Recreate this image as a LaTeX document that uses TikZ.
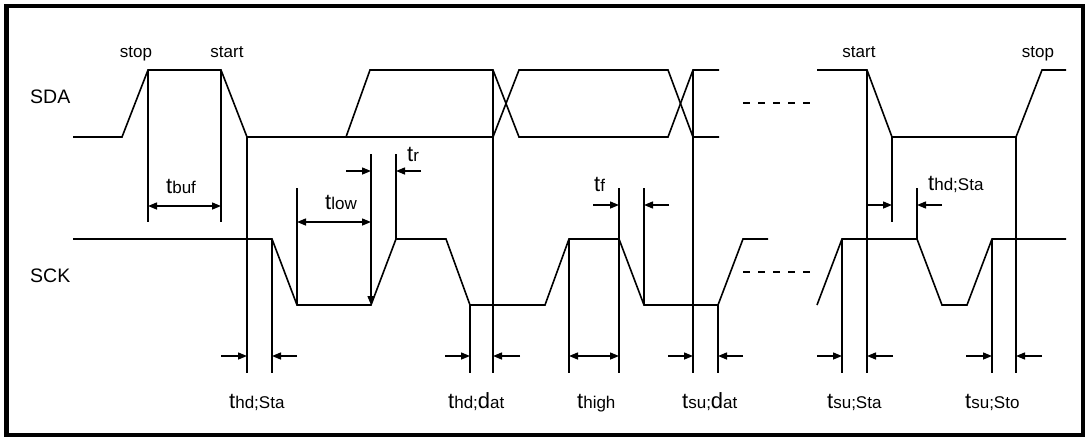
\documentclass[tikz,border=0pt]{standalone}
\usepackage{fontspec}
\setmainfont{Liberation Sans}
\usetikzlibrary{arrows.meta}
\newcommand{\bt}[1]{{\fontsize{22}{24}\selectfont #1}}
\newcommand{\st}[1]{{\fontsize{17}{19}\selectfont #1}}
\begin{document}
\begin{tikzpicture}[x=1pt,y=-1pt,
 sig/.style={line width=1.6pt, line join=miter},
 guide/.style={line width=1.4pt},
 arr/.style={line width=1.4pt,-{Triangle[length=9pt,width=7pt]}},
 darr/.style={line width=1.4pt,{Triangle[length=9pt,width=7pt]}-{Triangle[length=9pt,width=7pt]}},
 dots/.style={line width=1.6pt, dash pattern=on 7pt off 8pt},
 lbl/.style={anchor=base west, inner sep=0pt},
 word/.style={anchor=base, inner sep=0pt, font=\fontsize{17}{19}\selectfont},
 sname/.style={anchor=base west, inner sep=0pt, font=\fontsize{19.5}{22}\selectfont},
 frame/.style={line width=4.5pt}]
\useasboundingbox (0,0) rectangle (1085,437);
\draw[frame] (6.5,6) rectangle (1083,435);

% signal names
\node[sname] (sda) at (30,103) {SDA};
\node[sname] (sck) at (30,282) {SCK};
\node[word] (stop1) at (136,57) {stop};
\node[word] (start1) at (227,57) {start};
\node[word] (start2) at (859,57) {start};
\node[word] (stop2) at (1038,57) {stop};

% SDA
\draw[sig] (73,137) -- (122,137) -- (148,70) -- (221,70) -- (247,137) -- (493,137) -- (519,70) -- (668,70) -- (693,137) -- (719,137);
\draw[sig] (346,137) -- (370,70) -- (493,70) -- (519,137) -- (668,137) -- (693,70) -- (719,70);
\draw[sig] (817,70) -- (867,70) -- (892,137) -- (1016,137) -- (1042,70) -- (1066,70);

% SCK
\draw[sig] (73,239) -- (272,239) -- (297,305) -- (371,305) -- (396,239) -- (446,239) -- (470,305) -- (545,305) -- (569,239) -- (619,239) -- (644,305) -- (718,305) -- (743,239) -- (768,239);
\draw[sig] (817,305) -- (842,239) -- (917,239) -- (942,305) -- (967,305) -- (992,239) -- (1066,239);

% continuation dashes
\draw[dots] (743,103) -- (812,103);
\draw[dots] (743,272) -- (812,272);

% t_buf
\draw[guide] (148,70) -- (148,222);
\draw[guide] (221,70) -- (221,222);
\draw[darr] (148,206) -- (221,206);
\node[lbl] (tbuf) at (166,193) {\bt{t}\st{buf}};

% t_hd;Sta (left)
\draw[guide] (247,137) -- (247,373);
\draw[guide] (272,239) -- (272,373);
\draw[arr] (221,356) -- (247,356);
\draw[arr] (297,356) -- (272,356);
\node[lbl] (thdsta1) at (229,408) {\bt{t}\st{hd;Sta}};

% t_low
\draw[guide] (297,188) -- (297,305);
\draw[arr] (371,154) -- (371,305);
\draw[darr] (297,222) -- (371,222);
\draw[arr] (346,171) -- (371,171);
\node[lbl] (tlow) at (325,209) {\bt{t}\st{low}};

% t_r
\draw[guide] (396,154) -- (396,239);
\draw[arr] (421,171) -- (396,171);
\node[lbl] (tr) at (407,161) {\bt{t}\st{r}};

% t_hd;dat
\draw[guide] (470,305) -- (470,373);
\draw[guide] (493,70) -- (493,373);
\draw[arr] (445,356) -- (470,356);
\draw[arr] (520,356) -- (493,356);
\node[lbl] (thddat) at (448,408) {\bt{t}\st{hd;}\bt{d}\st{at}};

% t_high
\draw[guide] (569,239) -- (569,373);
\draw[guide] (619,188) -- (619,373);
\draw[darr] (569,356) -- (619,356);
\node[lbl] (thigh) at (577,408) {\bt{t}\st{high}};

% t_f
\draw[guide] (644,188) -- (644,305);
\draw[arr] (593,205) -- (619,205);
\draw[arr] (669,205) -- (644,205);
\node[lbl] (tf) at (594,191) {\bt{t}\st{f}};

% t_su;dat
\draw[guide] (693,70) -- (693,373);
\draw[guide] (718,305) -- (718,373);
\draw[arr] (668,356) -- (693,356);
\draw[arr] (743,356) -- (718,356);
\node[lbl] (tsudat) at (682,408) {\bt{t}\st{su;}\bt{d}\st{at}};

% t_su;Sta
\draw[guide] (842,239) -- (842,373);
\draw[guide] (867,70) -- (867,373);
\draw[arr] (817,356) -- (842,356);
\draw[arr] (893,356) -- (867,356);
\node[lbl] (tsusta) at (827,408) {\bt{t}\st{su;Sta}};

% t_hd;Sta (right)
\draw[guide] (892,137) -- (892,222);
\draw[guide] (917,188) -- (917,239);
\draw[arr] (868,205) -- (892,205);
\draw[arr] (942,205) -- (917,205);
\node[lbl] (thdsta2) at (928,190) {\bt{t}\st{hd;Sta}};

% t_su;Sto
\draw[guide] (992,239) -- (992,373);
\draw[guide] (1016,137) -- (1016,373);
\draw[arr] (966,356) -- (992,356);
\draw[arr] (1042,356) -- (1016,356);
\node[lbl] (tsusto) at (965,408) {\bt{t}\st{su;Sto}};
\end{tikzpicture}
\end{document}
